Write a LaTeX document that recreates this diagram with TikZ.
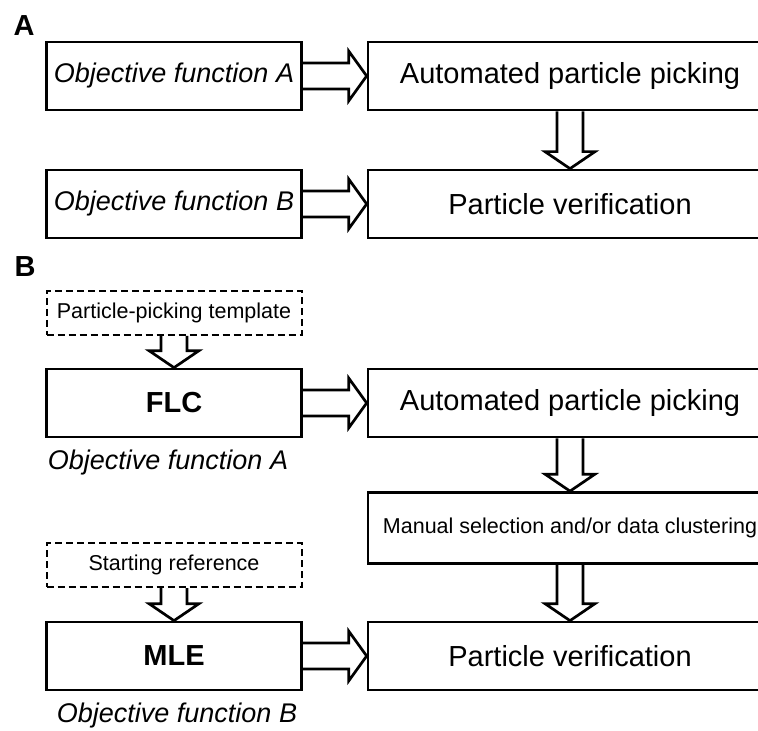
\documentclass[tikz,border=0pt]{standalone}
\usepackage{fontspec}
\setmainfont{Liberation Sans}
\usetikzlibrary{calc}

\begin{document}
\begin{tikzpicture}
  [x=0.5pt,y=-0.5pt,line width=1.35pt,
   box/.style={draw,rectangle,inner sep=0pt,minimum width=127.5pt,minimum height=34pt},
   wide/.style={box,minimum width=202pt,font=\fontsize{14.5}{17}\selectfont},
   hint/.style={box,dash pattern=on 3.5pt off 2pt,line width=1pt,minimum height=22pt,font=\fontsize{10.75}{13}\selectfont},
   note/.style={font=\fontsize{10.75}{13}\selectfont},
   objf/.style={font=\fontsize{13.5}{16}\selectfont\itshape},
   tag/.style={font=\fontsize{14.5}{17}\selectfont\bfseries},
   fat/.style={draw,line width=1.35pt,line join=miter}]
  \useasboundingbox (0,0) rectangle (758,731);
  \clip (0,0) rectangle (758,731);
  % panel A
  \node[tag] (la) at (24,26) {A};
  \node[box,objf] (oa) at (174,76) {Objective function A};
  \node[wide] (pa) at (570,76) {Automated particle picking};
  \node[box,objf] (ob) at (174,204) {Objective function B};
  \node[wide] (va) at (570,204) {Particle verification};
  % panel B
  \node[tag] (lb) at (25,267) {B};
  \node[hint] (tp) at (174,313) {Particle-picking template};
  \node[box,tag] (flc) at (174,403) {FLC};
  \node[objf] (fa) at (168,463) {Objective function A};
  \node[wide] (pb) at (570,403) {Automated particle picking};
  \node[wide,note,minimum height=35.5pt] (ms) at (570,528) {Manual selection and/or data clustering};
  \node[hint] (sr) at (174,565) {Starting reference};
  \node[box,tag] (mle) at (174,656) {MLE};
  \node[objf] (fb) at (177,716) {Objective function B};
  \node[wide] (vb) at (570,656) {Particle verification};
  \foreach \from/\to in {oa/pa, ob/va, flc/pb, mle/vb}
    \draw[fat] ($(\from.east)+(0,-13)$) -- ($(\to.west)+(-18,-13)$) -- ++(0,-12) -- (\to.west)
      -- ($(\to.west)+(-18,25)$) -- ++(0,-12) -- ($(\from.east)+(0,13)$);
  \foreach \from/\to in {pa/va, tp/flc, pb/ms, ms/vb, sr/mle}
    \draw[fat] ($(\from.south)+(-13,0)$) -- ($(\to.north)+(-13,-17)$) -- ++(-12,0) -- (\to.north)
      -- ($(\to.north)+(25,-17)$) -- ++(-12,0) -- ($(\from.south)+(13,0)$);
\end{tikzpicture}
\end{document}
